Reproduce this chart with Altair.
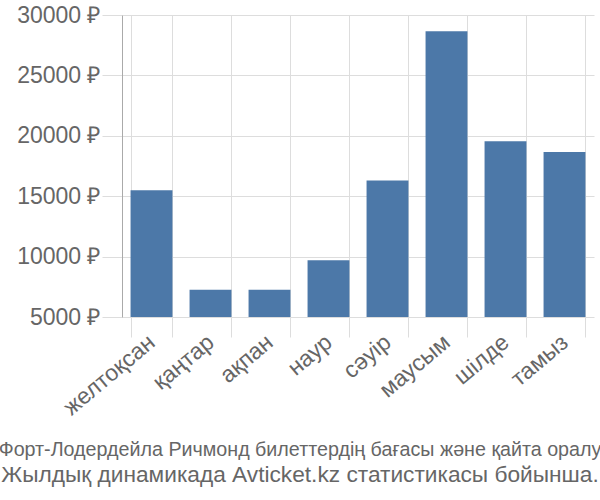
import altair as alt
import pandas as pd

months = ["желтоқсан", "қаңтар", "ақпан", "наур", "сәуір", "маусым", "шілде", "тамыз"]
prices = [15500, 7250, 7250, 9700, 16300, 28650, 19550, 18650]
y_ticks = [5000, 10000, 15000, 20000, 25000, 30000]
title_line1 = "Форт-Лодердейла Ричмонд билеттердің бағасы және қайта оралу"
title_line2 = "Жылдық динамикада Avticket.kz статистикасы бойынша."

df = pd.DataFrame({"month": months, "price": prices})

chart = alt.Chart(df).mark_bar(color="#4c78a8").encode(
    x=alt.X("month:N", sort=months, title=None,
            scale=alt.Scale(paddingInner=0.29, paddingOuter=0.145),
            axis=alt.Axis(tickBand="extent", grid=True, gridColor="#dddddd",
                          tickColor="#dddddd", tickSize=20, tickWidth=1,
                          domain=False, labelAngle=-40, labelAlign="right",
                          labelBaseline="middle", labelPadding=2, labelLimit=300,
                          labelFont="Liberation Sans", labelFontSize=23,
                          labelColor="#666666")),
    y=alt.Y("price:Q", title=None,
            scale=alt.Scale(domain=[5000, 30000], zero=False, nice=False, clamp=True),
            axis=alt.Axis(values=y_ticks, labelExpr="datum.value + ' ₽'",
                          grid=True, gridColor="#dddddd", tickColor="#dddddd",
                          tickSize=20, labelPadding=2, domainColor="#aaaaaa",
                          labelFont="Liberation Sans", labelFontSize=23,
                          labelColor="#666666", labelLimit=300)),
).properties(
    width=472, height=302,
    autosize=alt.AutoSizeParams(type="none"),
    padding={"left": 122, "top": 15, "right": 6, "bottom": 183},
    title=alt.TitleParams(
        text=title_line1, subtitle=title_line2, orient="bottom",
        anchor="middle", dx=-58, offset=20,
        font="Liberation Sans", fontSize=19.7, fontWeight="normal",
        color="#666666", subtitleFont="Liberation Sans", subtitleFontSize=22.7,
        subtitleColor="#666666", subtitlePadding=5,
    ),
).configure_view(stroke=None)

chart.save("out.html", embed_options={"renderer": "svg", "actions": False})
